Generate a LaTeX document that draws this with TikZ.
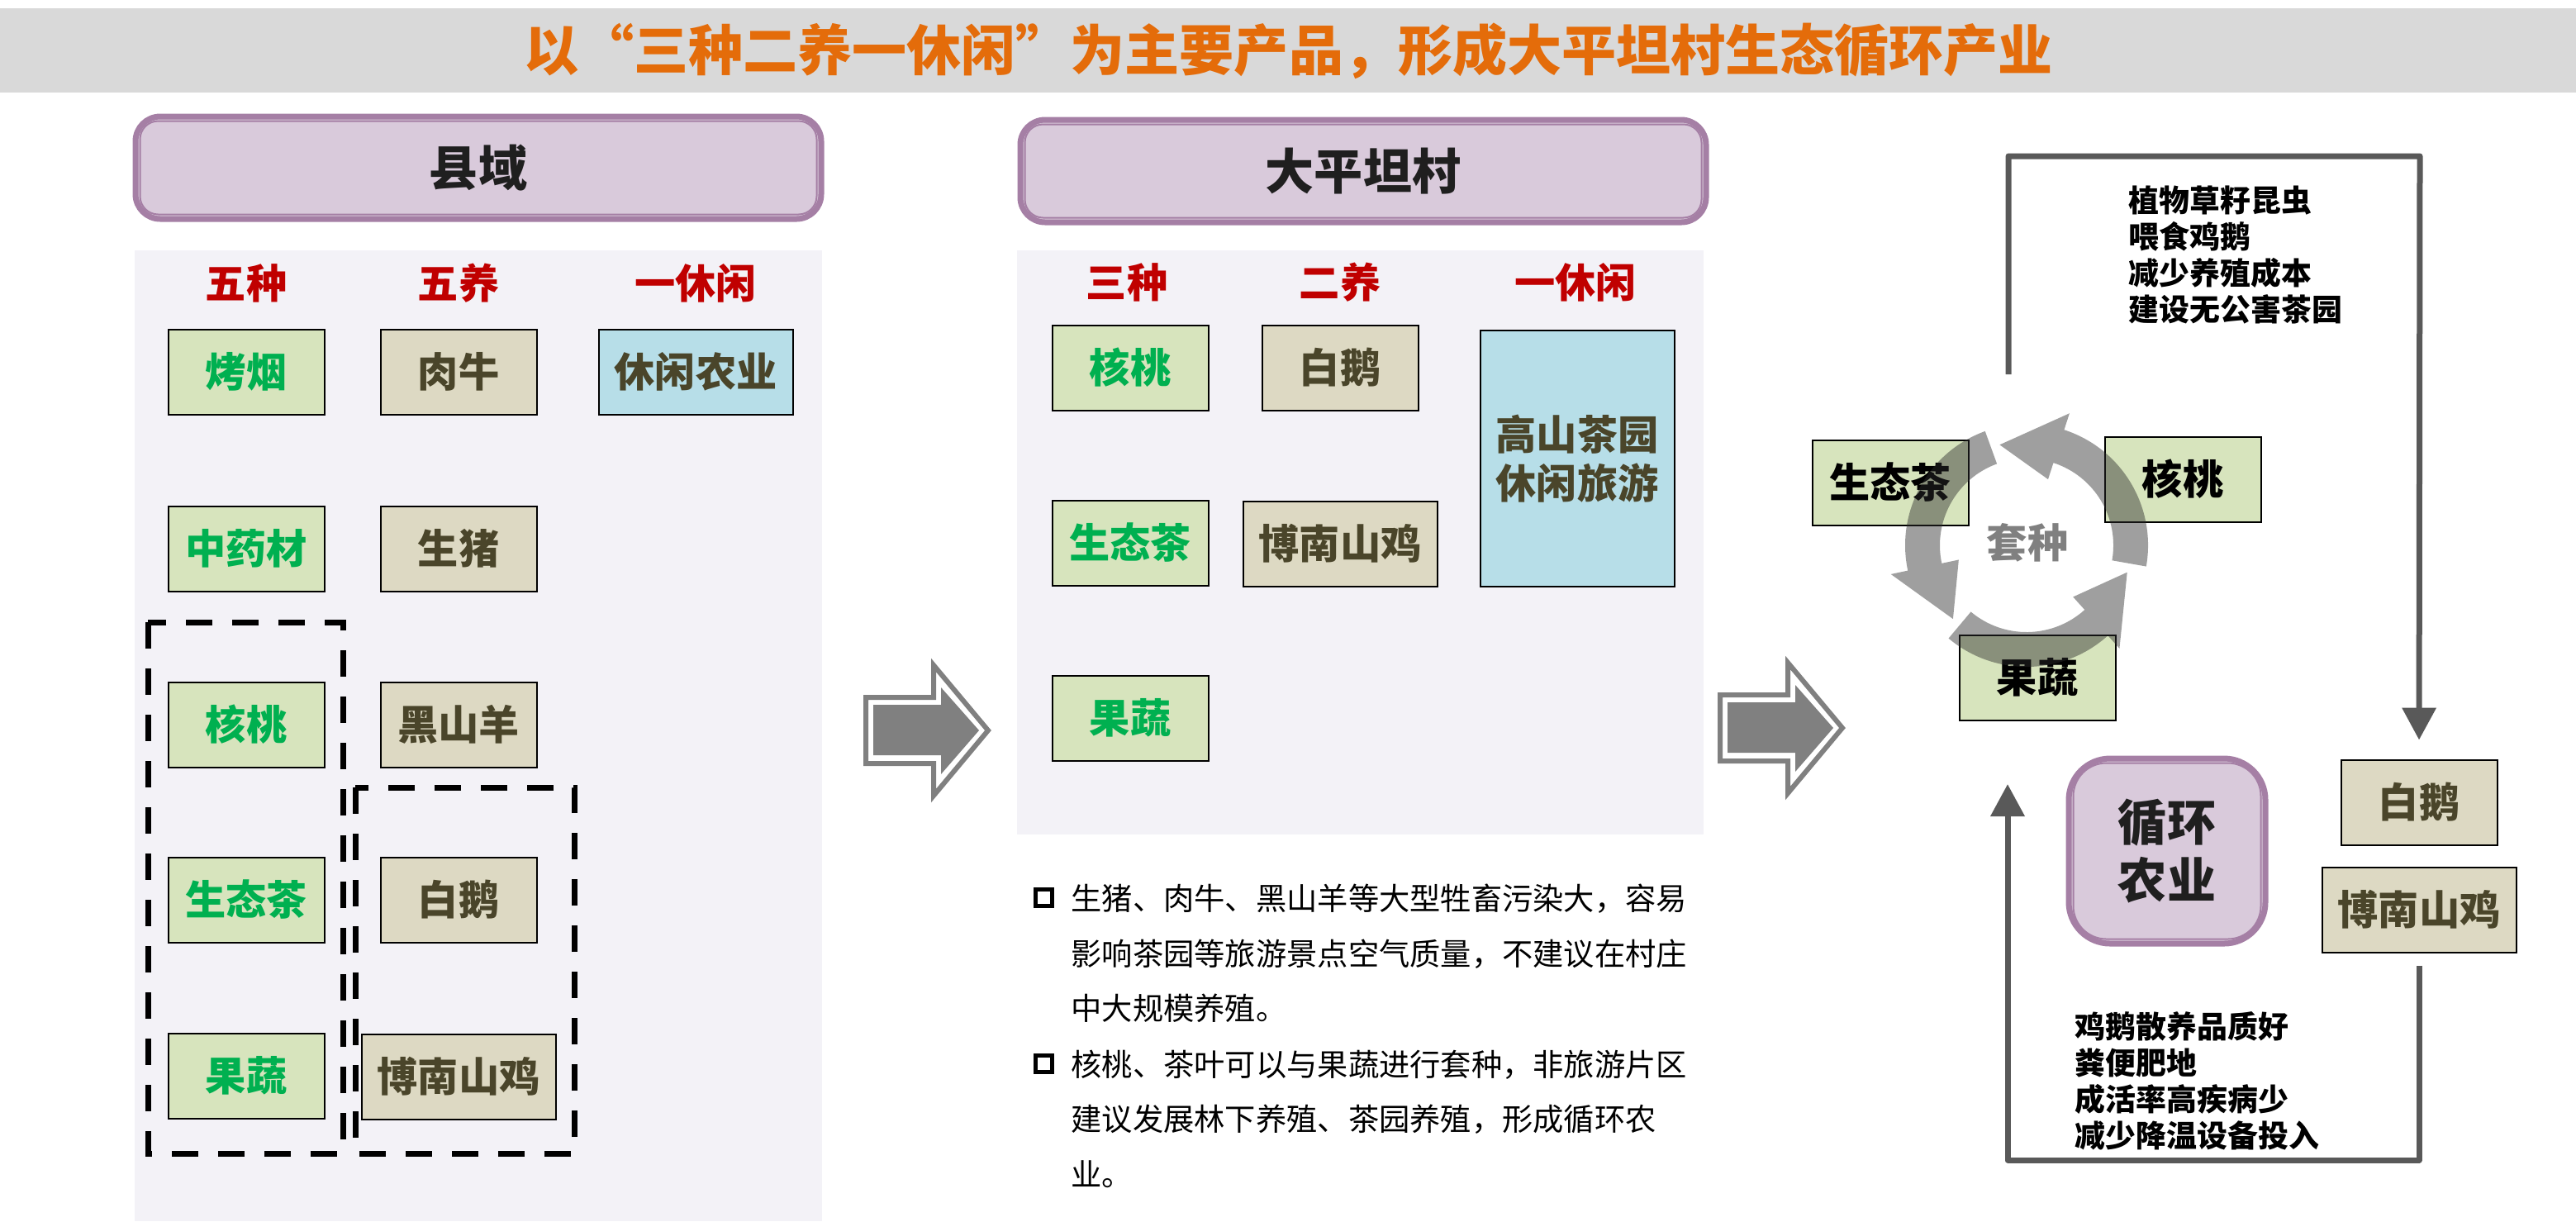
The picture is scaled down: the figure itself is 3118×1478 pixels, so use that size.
\documentclass[tikz,border=0pt]{standalone}
\usepackage{fontspec}
\setmainfont{Noto Sans CJK SC}
\usetikzlibrary{arrows.meta}

\definecolor{titlegray}{HTML}{D9D9D9}
\definecolor{titleorange}{HTML}{E46C0A}
\definecolor{panelbg}{HTML}{F3F2F7}
\definecolor{hdrfill}{HTML}{D9CADB}
\definecolor{hdrline}{HTML}{A57FA5}
\definecolor{plantfill}{HTML}{D7E4BD}
\definecolor{planttext}{HTML}{00B050}
\definecolor{animalfill}{HTML}{DDD9C3}
\definecolor{animaltext}{HTML}{4A452A}
\definecolor{leisurefill}{HTML}{B7DEE8}
\definecolor{colred}{HTML}{C00000}
\definecolor{loopgray}{HTML}{595959}
\definecolor{arrowgray}{HTML}{808080}

\newcommand{\titlefont}{\fontsize{18.8pt}{22pt}\selectfont\bfseries}
\newcommand{\hdrfont}{\fontsize{16.8pt}{20pt}\selectfont\bfseries}
\newcommand{\boxfont}{\fontsize{14pt}{16.8pt}\selectfont\bfseries}
\newcommand{\notefont}{\fontsize{10.5pt}{12.5pt}\selectfont\bfseries}
\newcommand{\bulletfont}{\fontsize{10.6pt}{19pt}\selectfont}

\begin{document}
\begin{tikzpicture}[x=0.1mm, y=-0.1mm,
    plant/.style={draw=black, line width=0.2mm, fill=plantfill, text=planttext,
      font=\boxfont, minimum width=18.9mm, minimum height=10.3mm, inner sep=0pt},
    animal/.style={plant, fill=animalfill, text=animaltext},
    leisure/.style={plant, fill=leisurefill, text=animaltext, minimum width=23.5mm},
    wide/.style={minimum width=23.5mm},
    cyc/.style={plant, text=black},
    colhead/.style={text=colred, font=\boxfont},
    hdr/.style={draw=hdrline, line width=0.7mm, fill=hdrfill, rounded corners=3mm,
      minimum width=83mm, minimum height=12.4mm, font=\hdrfont, text=black!88},
    grp/.style={draw=black, line width=0.7mm, dash pattern=on 3.2mm off 2.4mm},
    loopline/.style={draw=loopgray, line width=0.7mm, line join=round,
      -{Triangle[length=3.9mm, width=4mm]}},
    bulletbox/.style={draw=black, line width=0.5mm, minimum size=2mm, inner sep=0pt}]
  \useasboundingbox (0,0) rectangle (3118,1478);

  % title bar
  \fill[titlegray] (0,10) rectangle (3118,112);
  \node[font=\titlefont, text=titleorange] (title) at (1560,62)
    {以“三种二养一休闲”为主要产品，形成大平坦村生态循环产业};

  % county panel
  \fill[panelbg] (163,303) rectangle (995,1478);
  \node[hdr] (lhdr) at (579,203) {县域};
  \draw[hdrline, line width=0.2mm, rounded corners=2.2mm]
    ([shift={(9,9)}]lhdr.north west) rectangle ([shift={(-9,-9)}]lhdr.south east);
  \node[colhead] (lcol1) at (298,343) {五种};
  \node[colhead] (lcol2) at (555,343) {五养};
  \node[colhead] (lcol3) at (842,343) {一休闲};
  \node[plant] (tobacco) at (298,450) {烤烟};
  \node[plant] (herb) at (298,664) {中药材};
  \node[plant] (lwalnut) at (298,877) {核桃};
  \node[plant] (ltea) at (298,1089) {生态茶};
  \node[plant] (lfruit) at (298,1302) {果蔬};
  \node[animal] (beef) at (555,450) {肉牛};
  \node[animal] (pig) at (555,664) {生猪};
  \node[animal] (goat) at (555,877) {黑山羊};
  \node[animal] (lgoose) at (555,1089) {白鹅};
  \node[animal, wide] (lchicken) at (555,1303) {博南山鸡};
  \node[leisure] (lleisure) at (842,450) {休闲农业};
  \draw[grp] (179,753) rectangle (415,1396);
  \draw[grp] (430,953) rectangle (695,1396);

  % block arrows
  \foreach \sx/\sy in {0/0, 1034/-3} {
    \begin{scope}[shift={(\sx,\sy)}]
      \draw[arrowgray, line width=0.6mm] (1048,844) -- (1130,844) -- (1130,805)
        -- (1196,884) -- (1130,963) -- (1130,924) -- (1048,924) -- cycle;
      \fill[arrowgray] (1057,853) -- (1139,853) -- (1139,832) -- (1185,884)
        -- (1139,937) -- (1139,914) -- (1057,914) -- cycle;
    \end{scope}
  }

  % village panel
  \fill[panelbg] (1231,303) rectangle (2062,1010);
  \node[hdr] (mhdr) at (1650,207) {大平坦村};
  \draw[hdrline, line width=0.2mm, rounded corners=2.2mm]
    ([shift={(9,9)}]mhdr.north west) rectangle ([shift={(-9,-9)}]mhdr.south east);
  \node[colhead] (mcol1) at (1364,342) {三种};
  \node[colhead] (mcol2) at (1622,342) {二养};
  \node[colhead] (mcol3) at (1907,342) {一休闲};
  \node[plant] (mwalnut) at (1368,445) {核桃};
  \node[plant] (mtea) at (1368,657) {生态茶};
  \node[plant] (mfruit) at (1368,869) {果蔬};
  \node[animal] (mgoose) at (1622,445) {白鹅};
  \node[animal, wide] (mchicken) at (1622,658) {博南山鸡};
  \node[leisure, minimum height=31mm, align=center] (mleisure) at (1909,555)
    {高山茶园\\休闲旅游};

  % notes
  \node[bulletbox] (dot1) at (1263,1086) {};
  \node[bulletbox] (dot2) at (1263,1287) {};
  \node[anchor=north west, align=left, font=\bulletfont, inner sep=0pt] (note1)
    at (1296,1069) {生猪、肉牛、黑山羊等大型牲畜污染大，容易\\
    影响茶园等旅游景点空气质量，不建议在村庄\\中大规模养殖。};
  \node[anchor=north west, align=left, font=\bulletfont, inner sep=0pt] (note2)
    at (1296,1270) {核桃、茶叶可以与果蔬进行套种，非旅游片区\\
    建议发展林下养殖、茶园养殖，形成循环农\\业。};

  % interplanting cycle
  \node[cyc] (rtea) at (2288,584) {生态茶};
  \node[cyc] (rwalnut) at (2642,580) {核桃};
  \node[cyc] (rfruit) at (2466,820) {果蔬};
  \begin{scope}[shift={(2453,660)}, x=0.1mm, y=0.1mm]
    \foreach \t in {-10,110,230} {
      \pgfmathsetmacro{\hb}{\t+82}
      \pgfmathsetmacro{\tp}{\t+115}
      \fill[black!83, opacity=0.45] (\t:147) arc[start angle=\t, end angle=\hb, radius=147]
        -- (\hb:168) -- (\tp:126) -- (\hb:84) -- (\hb:105)
        arc[start angle=\hb, end angle=\t, radius=105] -- cycle;
    }
  \end{scope}
  \node[font=\boxfont, text=black!50] (interplant) at (2454,657) {套种};

  % circular farming
  \node[hdr, minimum width=23.8mm, minimum height=22.4mm, rounded corners=5mm,
    align=center] (cycfarm) at (2623,1030) {循环\\农业};
  \draw[hdrline, line width=0.2mm, rounded corners=4mm]
    ([shift={(9,9)}]cycfarm.north west) rectangle ([shift={(-9,-9)}]cycfarm.south east);
  \node[animal] (rgoose) at (2928,971) {白鹅};
  \node[animal, wide] (rchicken) at (2928,1101) {博南山鸡};

  \coordinate (loopstart) at (2431,453);
  \coordinate (loopend) at (2430,949);
  \draw[loopline, shorten >=2.3mm] (loopstart) |- (2929,189) -- (rgoose.north);
  \draw[loopline, shorten <=1.5mm] (rchicken.south) |- (2430,1404) -- (loopend);
  \node[anchor=north west, align=left, font=\notefont, inner sep=0pt] (feednote)
    at (2576,224) {植物草籽昆虫\\喂食鸡鹅\\减少养殖成本\\建设无公害茶园};
  \node[anchor=north west, align=left, font=\notefont, inner sep=0pt] (rangenote)
    at (2511,1224) {鸡鹅散养品质好\\粪便肥地\\成活率高疾病少\\减少降温设备投入};
\end{tikzpicture}
\end{document}
